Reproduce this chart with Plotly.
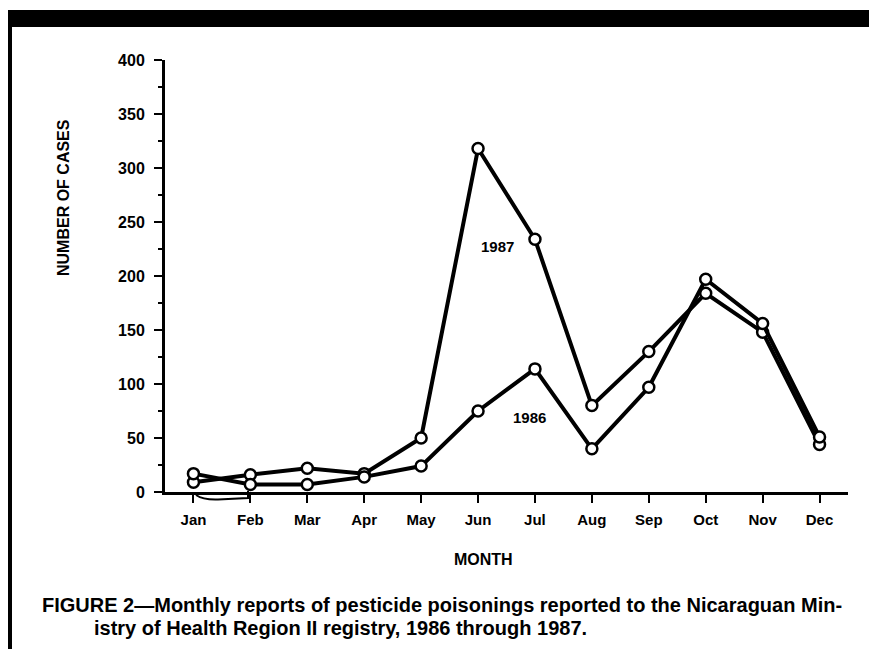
import plotly.graph_objects as go

months = ["Jan", "Feb", "Mar", "Apr", "May", "Jun", "Jul", "Aug", "Sep", "Oct", "Nov", "Dec"]
cases_1986 = [17, 7, 7, 14, 24, 75, 114, 40, 97, 197, 156, 51]
cases_1987 = [9, 16, 22, 17, 50, 318, 234, 80, 130, 184, 148, 44]
y_ticks = [0, 50, 100, 150, 200, 250, 300, 350, 400]

FONT = "Liberation Sans"
OFF = 8  # page body margin
W, H = 877 - OFF, 649 - OFF
# plot area in screen pixels
X0, X1, Y0, Y1 = 165, 848, 60, 492
L, R, T, B = X0 - OFF, 877 - X1, Y0 - OFF, 649 - Y1
PW, PH = X1 - X0, Y1 - Y0


def px(x):
    return (x - X0) / PW


def py(y):
    return (Y1 - y) / PH


def pp(x, y):
    return f"{px(x):.5f},{py(y):.5f}"


fig = go.Figure()
for name, vals in [("1987", cases_1987), ("1986", cases_1986)]:
    fig.add_trace(go.Scatter(
        x=list(range(len(months))), y=vals, mode="lines+markers", name=name,
        line=dict(color="black", width=4),
        marker=dict(symbol="circle", size=11, color="white",
                    line=dict(color="black", width=2.5)),
        showlegend=False, cliponaxis=False,
    ))

bracket = (f"M {pp(196, 495)} Q {pp(203, 500)} {pp(218, 499.5)} "
           f"L {pp(248, 498)} L {pp(248, 491)}")

fig.update_layout(
    width=W, height=H,
    margin=dict(l=L, r=R, t=T, b=B),
    paper_bgcolor="white", plot_bgcolor="white",
    font=dict(family=FONT, color="black", size=14, weight="bold"),
    xaxis=dict(
        range=[-0.5, 11.5], tickmode="array", tickvals=list(range(len(months))),
        ticktext=months, showgrid=False, zeroline=False, showline=True,
        linecolor="black", linewidth=3, ticks="outside", ticklen=8, tickwidth=2,
        tickcolor="black", tickfont=dict(size=15, family=FONT, weight="bold"),
        ticklabelstandoff=4,
    ),
    yaxis=dict(
        range=[0, 400], tickmode="array", tickvals=y_ticks,
        ticktext=[str(v) for v in y_ticks], showgrid=False, zeroline=False,
        showline=True, linecolor="black", linewidth=3, ticks="outside",
        ticklen=8, tickwidth=2, tickcolor="black",
        tickfont=dict(size=16, family=FONT, weight="bold"),
        minor=dict(ticks="outside", ticklen=4, tickwidth=2, tickcolor="black",
                   dtick=25, tick0=0, showgrid=False),
        ticklabelstandoff=6,
    ),
    shapes=[
        dict(type="rect", xref="paper", yref="paper", x0=px(8), x1=px(900),
             y0=py(27), y1=py(10), fillcolor="black", line=dict(width=0), layer="above"),
        dict(type="rect", xref="paper", yref="paper", x0=px(8), x1=px(12),
             y0=py(660), y1=py(10), fillcolor="black", line=dict(width=0), layer="above"),
        dict(type="path", xref="paper", yref="paper", path=bracket,
             line=dict(color="black", width=2)),
    ],
    annotations=[
        dict(text="NUMBER OF CASES", xref="paper", yref="paper", x=px(63), y=py(198),
             textangle=-90, showarrow=False, font=dict(size=16, weight="bold"),
             xanchor="center", yanchor="middle"),
        dict(text="MONTH", xref="paper", yref="paper", x=px(483), y=py(559),
             showarrow=False, font=dict(size=16, weight="bold"),
             xanchor="center", yanchor="middle"),
        dict(text="1987", xref="x", yref="y", x=5.35, y=227, showarrow=False,
             font=dict(size=15, weight="bold")),
        dict(text="1986", xref="x", yref="y", x=5.91, y=69, showarrow=False,
             font=dict(size=15, weight="bold")),
        dict(text="FIGURE 2\u2014Monthly reports of pesticide poisonings reported to the Nicaraguan Min-",
             xref="paper", yref="paper", x=px(40), y=py(605), showarrow=False,
             xanchor="left", yanchor="middle", font=dict(size=20, weight="bold")),
        dict(text="istry of Health Region II registry, 1986 through 1987.",
             xref="paper", yref="paper", x=px(92), y=py(628), showarrow=False,
             xanchor="left", yanchor="middle", font=dict(size=20, weight="bold")),
    ],
)

fig.write_html("out.html")
